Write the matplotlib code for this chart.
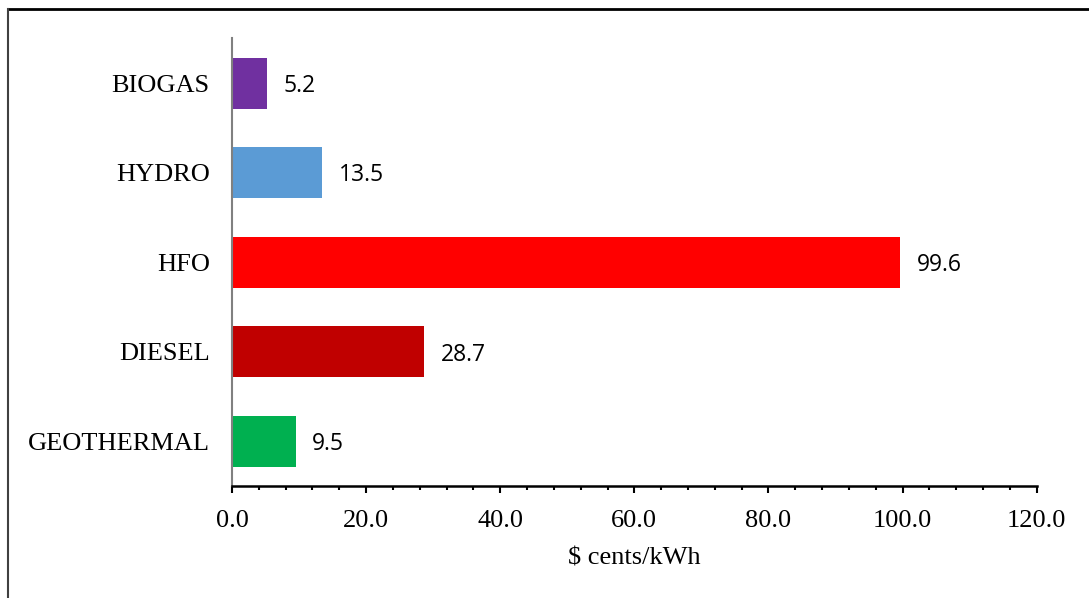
import matplotlib
matplotlib.use("Agg")
import matplotlib.pyplot as plt
from matplotlib.ticker import MultipleLocator
from matplotlib.lines import Line2D

sources = ["GEOTHERMAL", "DIESEL", "HFO", "HYDRO", "BIOGAS"]
costs = [9.5, 28.7, 99.6, 13.5, 5.2]
colors = ["#00B050", "#C00000", "#FF0000", "#5B9BD5", "#7030A0"]

fig = plt.figure(figsize=(10.89, 5.98), dpi=100)
ax = fig.add_axes([0.213, 0.187, 0.739, 0.749])

bars = ax.barh(range(len(sources)), costs, height=0.57, color=colors)
for bar, v in zip(bars, costs):
    ax.annotate(f"{v:.1f}", (bar.get_width(), bar.get_y() + bar.get_height() / 2),
                xytext=(12, -2), textcoords="offset points", va="center", ha="left",
                fontsize=16.5, family="Open Sans")

ax.set_yticks(range(len(sources)))
ax.set_yticklabels(sources, family="Liberation Serif", fontsize=19)
ax.set_ylim(-0.5, 4.5)
ax.set_xlim(0, 120)
ax.xaxis.set_major_locator(MultipleLocator(20))
ax.xaxis.set_minor_locator(MultipleLocator(4))
ax.xaxis.set_major_formatter(lambda x, p: f"{x:.1f}")
for lbl in ax.get_xticklabels():
    lbl.set_family("Liberation Serif")
    lbl.set_fontsize(19)
ax.tick_params(axis="x", which="major", direction="out", length=5, width=1.5, pad=12)
ax.tick_params(axis="x", which="minor", direction="out", length=3, width=1.5)
ax.tick_params(axis="y", length=0, pad=16)
ax.set_xlabel("$ cents/kWh", family="Liberation Serif", fontsize=19, labelpad=11)

ax.spines["top"].set_visible(False)
ax.spines["right"].set_visible(False)
ax.spines["bottom"].set_linewidth(1.8)
ax.spines["left"].set_color("#808080")
ax.spines["left"].set_linewidth(1.5)

# outer frame (top and left edges only)
fig.add_artist(Line2D([8 / 1089, 1.0], [1 - 9 / 598] * 2, transform=fig.transFigure,
                      color="black", lw=2))
fig.add_artist(Line2D([8 / 1089] * 2, [0, 1 - 9 / 598], transform=fig.transFigure,
                      color="#404040", lw=1.5))

fig.savefig("out.png", dpi=100)
